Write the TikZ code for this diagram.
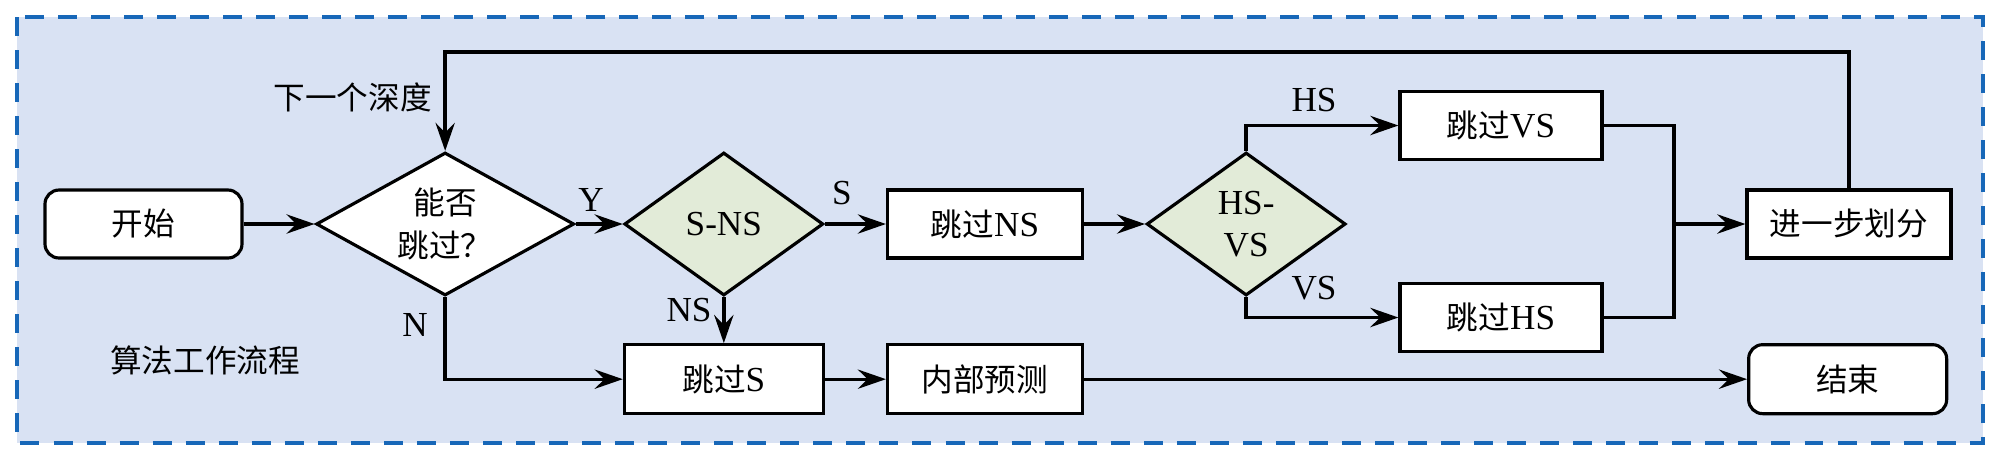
\documentclass[tikz,border=0pt]{standalone}
\usepackage{fontspec}
\setmainfont{Liberation Serif}
\newfontfamily\cjkfont{Noto Sans CJK SC}[Scale=0.9]
\newcommand{\zh}[1]{{\cjkfont #1}}
\usepackage{tikz}
\usetikzlibrary{arrows.meta,positioning,shapes.geometric}
\usepackage{xcolor}
\definecolor{panelblue}{HTML}{D9E2F3}
\definecolor{framedash}{HTML}{1767B8}
\definecolor{decgreen}{HTML}{E2EBD8}

\begin{document}
\begin{tikzpicture}[
  font=\fontsize{10}{12}\selectfont,
  box/.style={draw,line width=0.9pt,fill=white,minimum height=6.8mm,minimum width=19.5mm,align=center,inner sep=1pt},
  term/.style={box,rounded corners=4pt},
  decis/.style={draw,diamond,line width=0.9pt,aspect=1.4,inner sep=0pt,minimum width=19.9mm,minimum height=14.3mm,align=center},
  lbl/.style={inner sep=1pt},
  arr/.style={-{Stealth[length=8pt,width=5.5pt,inset=2.8pt]},line width=0.95pt},
  line/.style={line width=0.95pt}
]
\useasboundingbox (0,0) rectangle (20,-4.61);
\draw[framedash,fill=panelblue,line width=1.4pt,dash pattern=on 5.4pt off 4pt] (0.17,-0.17) rectangle (19.83,-4.43);

% main row
\node[term,minimum width=19.7mm] (start) at (1.435,-2.24) {\zh{开始}};
\node[decis,fill=white,minimum width=25.8mm,right=7.1mm of start] (canskip) {\zh{能否}\\\zh{跳过？}};
\node[decis,fill=decgreen,right=4.7mm of canskip] (sns) {S-NS};
\node[box,right=6.1mm of sns] (skipns) {\zh{跳过}NS};
\node[decis,fill=decgreen,right=6.1mm of skipns] (hsvs) {HS-\\VS};
\node[box,minimum width=20.2mm] (skipvs) at (15.01,-1.255) {\zh{跳过}VS};
\node[box,minimum width=20.2mm] (skiphs) at (15.01,-3.175) {\zh{跳过}HS};
\node[box,minimum width=20.4mm] (split) at (18.49,-2.24) {\zh{进一步划分}};

% bottom row
\node[box,minimum width=19.9mm,minimum height=6.9mm,below=4.6mm of sns] (skips) {\zh{跳过}S};
\node[box,minimum height=6.9mm,right=6.1mm of skips] (intra) {\zh{内部预测}};
\node[term,minimum width=19.8mm,minimum height=6.9mm,right=66.3mm of intra] (finish) {\zh{结束}};

% labels
\node[lbl,anchor=east] (depth) at (4.36,-0.97) {\zh{下一个深度}};
\node[lbl] (yes) at (5.91,-2.0) {Y};
\node[lbl] (no) at (4.15,-3.25) {N};
\node[lbl] (lbls) at (8.42,-1.93) {S};
\node[lbl] (lblns) at (6.89,-3.10) {NS};
\node[lbl] (lblhs) at (13.14,-1.0) {HS};
\node[lbl] (lblvs) at (13.14,-2.88) {VS};
\node[lbl] (title) at (2.05,-3.60) {\zh{算法工作流程}};

\coordinate (top) at (0,-0.52);
\coordinate (join) at (16.74,-2.24);

\draw[arr] (start) -- (canskip);
\draw[arr] (canskip) -- (sns);
\draw[arr] (sns) -- (skipns);
\draw[arr] (skipns) -- (hsvs);
\draw[arr] (hsvs.north) |- (skipvs.west);
\draw[arr] (hsvs.south) |- (skiphs.west);
\draw[line] (skipvs.east) -| (join);
\draw[line] (skiphs.east) -| (join);
\draw[arr] (join) -- (split.west);
\draw[arr] (split.north) |- (top -| canskip.north) -- (canskip.north);
\draw[arr] (canskip.south) |- (skips.west);
\draw[arr] (sns.south) -- (skips.north);
\draw[arr] (skips) -- (intra);
\draw[arr] (intra) -- (finish);
\end{tikzpicture}
\end{document}
